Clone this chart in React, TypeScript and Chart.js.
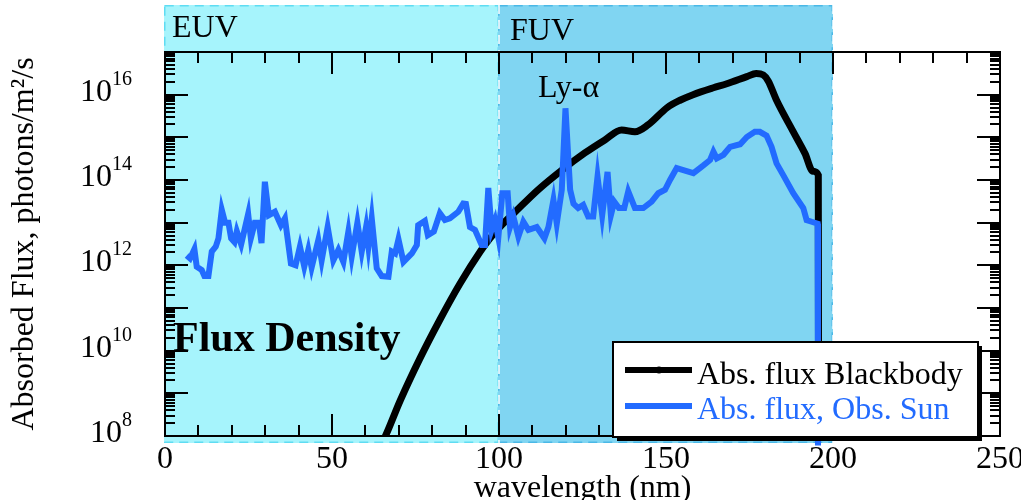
import React, { useEffect, useRef } from "react";
import { Chart, registerables } from "chart.js";

Chart.register(...registerables);

// ---------- data ----------
const seriesLabels = ["Abs. flux Blackbody", "Abs. flux, Obs. Sun"];

// Blackbody absorbed flux (wavelength nm, photons/m^2/s)
const bbWavelength = [
  63, 66, 70.4, 76.3, 82.3, 88.3, 94.3, 97.3, 100.8, 104.8, 111.7, 118.8, 125.7,
  131.7, 136.7, 140.7, 144.6, 150.4, 154.2, 158.1, 164.2, 168.2, 174.2, 177.0,
  179.1, 180.6, 183.1, 188.0, 191.6, 194.0, 195.6, 195.7,
];
const bbFlux = [
  3.5e7, 1.0e8, 6.7e8, 6.5e9, 5.3e10, 3.7e11, 2.05e12, 4.3e12, 8.8e12, 1.78e13,
  5.9e13, 1.7e14, 4.3e14, 8.7e14, 1.48e15, 1.35e15, 1.95e15, 5.0e15, 7.4e15,
  1.0e16, 1.45e16, 1.8e16, 2.65e16, 3.15e16, 2.9e16, 2.1e16, 7.4e15, 1.4e15,
  4.2e14, 1.6e14, 1.3e14, 1e6,
];

// Observed Sun absorbed flux
const sunWavelength = [
  6.5, 7.5, 8.8, 9.5, 11.0, 11.8, 13.0, 14.0, 15.2, 16.0, 17.0, 18.0, 19.0, 19.8,
  20.8, 21.5, 22.8, 24.9, 25.7, 26.9, 28.1, 28.9, 29.9, 31.1, 32.9, 34.7, 35.9,
  37.7, 39.1, 40.4, 41.7, 42.9, 43.9, 45.9, 46.9, 48.7, 50.4, 51.9, 53.4, 54.9,
  55.9, 57.6, 58.9, 60.2, 60.9, 61.9, 63.4, 64.9, 66.9, 67.9, 68.9, 69.9, 71.4,
  73.9, 75.4, 75.8, 77.8, 78.7, 80.5, 82.3, 83.8, 85.3, 87.8, 89.3, 90.1, 91.3,
  92.8, 94.8, 95.8, 96.8, 97.8, 98.8, 99.8, 101.0, 102.6, 103.3, 104.3, 105.8,
  107.3, 108.8, 111.3, 113.6, 114.8, 116.3, 117.3, 118.8, 119.9, 121.3, 122.3,
  123.7, 125.2, 126.7, 128.2, 129.5, 130.9, 132.5, 133.5, 134.5, 135.9, 137.5,
  138.7, 140.7, 143.2, 145.7, 147.7, 149.7, 151.2, 153.2, 155.2, 158.2, 161.2,
  163.2, 164.2, 165.2, 167.2, 169.2, 172.2, 174.2, 176.6, 178.1, 180.1, 181.6,
  183.1, 185.1, 188.1, 191.1, 192.1, 193.6, 195.4, 195.5,
];
const sunFlux = [
  1.7e12, 1.45e12, 2.4e12, 9.3e11, 7.8e11, 5.6e11, 5.6e11, 2.1e12, 2.75e12, 4.3e12,
  2.0e13, 1.0e13, 1.0e13, 4.3e12, 3.5e12, 6.3e12, 3.1e12, 1.6e13, 4.3e12, 1.0e13,
  1.0e13, 3.3e12, 9.1e13, 1.5e13, 1.8e13, 8.7e12, 1.26e13, 1.1e12, 1.0e12, 2.75e12,
  9.3e11, 2.3e12, 8.9e11, 3.9e12, 1.3e12, 7.9e12, 1.3e12, 2.3e12, 1.2e12, 6.2e12,
  1.6e12, 1.0e13, 2.1e12, 7.9e12, 2.75e12, 1.26e13, 8.5e11, 5.6e11, 5.4e11, 2.1e12,
  1.9e12, 4.1e12, 1.2e12, 1.9e12, 3.0e12, 8.7e12, 1.1e13, 5.1e12, 6.2e12, 1.66e13,
  1.15e13, 1.26e13, 1.8e13, 2.8e13, 2.75e13, 7.9e12, 6.8e12, 3.0e12, 3.0e12, 6.5e13,
  6.8e12, 1.15e13, 4.5e12, 4.9e13, 4.9e13, 7.9e12, 1.4e13, 4.7e12, 1.05e13, 6.8e12,
  7.9e12, 4.3e12, 7.9e12, 3.4e13, 9.5e12, 5.9e13, 4.8e15, 5.9e13, 2.8e13, 2.2e13,
  2.6e13, 1.4e13, 1.4e13, 1.2e14, 1.5e13, 1.55e14, 1.5e13, 3.1e13, 2.2e13, 2.2e13,
  5.4e13, 2.2e13, 2.2e13, 3.1e13, 4.9e13, 5.9e13, 1.0e14, 1.9e14, 1.7e14, 1.45e14,
  2.2e14, 2.95e14, 4.6e14, 3.2e14, 3.9e14, 6.0e14, 6.9e14, 1.02e15, 1.35e15, 1.35e15,
  1.1e15, 6.0e14, 2.45e14, 1.3e14, 4.9e13, 2.2e13, 1.15e13, 1.05e13, 9.5e12, 6e7,
];

const xMin = 0;
const xMax = 250;
const xLabelStep = 50;
const xMinorStep = 10;
const yMinExp = 8;
const yMaxExp = 17;
const yTickExponents = [8, 10, 12, 14, 16];

const bandNames = ["EUV", "FUV"];
const bandStarts = [0, 100];
const bandEnds = [100, 200];

const xTitle = "wavelength (nm)";
const yTitle = "Absorbed Flux, photons/m\u00B2/s";
const lyAlphaLabel = "Ly-\u03B1";
const panelLabel = "Flux Density";

// ---------- styles ----------
const SERIF = "'Liberation Serif', 'Times New Roman', 'DejaVu Serif', serif";
const BLUE = "#226bff";
const BAND_FILLS = ["#a6f4fc", "#80d5f2"];
const BAND_EDGES = ["#5fdcf2", "#4ab8e6"];

const decorPlugin = {
  id: "decor",
  beforeDraw(chart: any) {
    const { ctx, scales } = chart;
    const x = scales.x;
    ctx.save();
    const bTop = 5;
    const bBottom = 443;
    for (let i = 0; i < bandNames.length; i++) {
      const x0 = x.getPixelForValue(bandStarts[i]) - 1;
      const x1 = x.getPixelForValue(bandEnds[i]);
      ctx.fillStyle = BAND_FILLS[i];
      ctx.fillRect(x0, bTop, x1 - x0, bBottom - bTop);
      ctx.setLineDash([9, 6]);
      ctx.lineWidth = 1.5;
      ctx.strokeStyle = BAND_EDGES[i];
      ctx.strokeRect(x0 + 0.75, bTop + 0.75, x1 - x0 - 1.5, bBottom - bTop - 1.5);
    }
    ctx.strokeStyle = "#ffffff";
    ctx.lineWidth = 1.5;
    ctx.setLineDash([9, 6]);
    ctx.beginPath();
    for (const b of [bandEnds[0], bandEnds[1]]) {
      const px = x.getPixelForValue(b);
      ctx.moveTo(px, bTop);
      ctx.lineTo(px, bBottom);
    }
    ctx.stroke();
    ctx.setLineDash([]);
    ctx.fillStyle = "#000";
    ctx.font = `32px ${SERIF}`;
    ctx.textAlign = "left";
    ctx.textBaseline = "alphabetic";
    ctx.fillText(bandNames[0], x.getPixelForValue(bandStarts[0]) + 7, 37);
    ctx.fillText(bandNames[1], x.getPixelForValue(bandStarts[1]) + 11, 40);
    ctx.restore();
  },
  afterDatasetsDraw(chart: any) {
    const { ctx, chartArea, scales } = chart;
    const { left, right, top, bottom } = chartArea;
    const x = scales.x;
    const y = scales.y;
    ctx.save();
    ctx.strokeStyle = "#000";
    ctx.lineWidth = 2;
    ctx.beginPath();
    for (let v = xMin; v <= xMax; v += xMinorStep) {
      const px = Math.round(x.getPixelForValue(v));
      const len = v % xLabelStep === 0 ? 22 : 11;
      ctx.moveTo(px, bottom);
      ctx.lineTo(px, bottom - len);
      ctx.moveTo(px, top);
      ctx.lineTo(px, top + len);
    }
    for (let e = yMinExp; e < yMaxExp; e++) {
      for (let m = 1; m <= 9; m++) {
        const py = Math.round(y.getPixelForValue(m * Math.pow(10, e)));
        const len = m === 1 ? 23 : 10;
        ctx.moveTo(left, py);
        ctx.lineTo(left + len, py);
        ctx.moveTo(right, py);
        ctx.lineTo(right - len, py);
      }
    }
    ctx.stroke();
    ctx.strokeRect(left, top, right - left, bottom - top);

    ctx.fillStyle = "#000";
    ctx.textBaseline = "alphabetic";
    const labelRight = left - 33;
    for (const e of yTickExponents) {
      const py = y.getPixelForValue(Math.pow(10, e));
      ctx.font = `20px ${SERIF}`;
      const es = String(e);
      const ew = ctx.measureText(es).width;
      ctx.textAlign = "left";
      ctx.fillText(es, labelRight - ew, py - 10);
      ctx.font = `32px ${SERIF}`;
      ctx.textAlign = "right";
      ctx.fillText("10", labelRight - ew, py + 6);
    }
    ctx.restore();
  },
  afterDraw(chart: any) {
    const { ctx } = chart;
    ctx.save();
    ctx.fillStyle = "#000";
    ctx.textAlign = "left";
    ctx.textBaseline = "alphabetic";
    ctx.font = `32px ${SERIF}`;
    ctx.fillText(lyAlphaLabel, 538, 97);
    ctx.font = `bold 42px ${SERIF}`;
    ctx.fillText(panelLabel, 173, 351);

    const lx = 613;
    const ly = 342;
    const lw = 365;
    const lh = 95;
    ctx.fillStyle = "#000";
    ctx.fillRect(lx + 4, ly + 4, lw, lh);
    ctx.fillStyle = "#fff";
    ctx.fillRect(lx, ly, lw, lh);
    ctx.strokeStyle = "#000";
    ctx.lineWidth = 2;
    ctx.strokeRect(lx, ly, lw, lh);
    chart.data.datasets.forEach((ds: any, i: number) => {
      const sy = ly + 28 + i * 36;
      ctx.strokeStyle = ds.borderColor;
      ctx.lineWidth = 6;
      ctx.beginPath();
      ctx.moveTo(lx + 12, sy);
      ctx.lineTo(lx + 79, sy);
      ctx.stroke();
      if (i === 0) {
        ctx.fillStyle = ds.borderColor;
        ctx.beginPath();
        ctx.arc(lx + 46, sy, 3.5, 0, Math.PI * 2);
        ctx.fill();
      }
      ctx.fillStyle = ds.borderColor;
      ctx.font = `32px ${SERIF}`;
      ctx.fillText(ds.label, lx + 84, ly + 41.5 + i * 35.5);
    });
    ctx.restore();
  },
};

export default function App() {
  const ref = useRef<HTMLCanvasElement>(null);
  useEffect(() => {
    if (!ref.current) return;
    const chart = new Chart(ref.current, {
      type: "line",
      data: {
        datasets: [
          {
            label: seriesLabels[0],
            data: bbWavelength.map((w, i) => ({ x: w, y: bbFlux[i] })),
            borderColor: "#000000",
            backgroundColor: "#000000",
            borderWidth: 7,
            pointRadius: 0,
            cubicInterpolationMode: "monotone",
            order: 2,
          },
          {
            label: seriesLabels[1],
            data: sunWavelength.map((w, i) => ({ x: w, y: sunFlux[i] })),
            borderColor: BLUE,
            backgroundColor: BLUE,
            borderWidth: 6,
            pointRadius: 0,
            tension: 0,
            order: 1,
            clip: { left: 0, top: 0, right: 0, bottom: 12 } as any,
          },
        ],
      },
      options: {
        animation: false,
        responsive: false,
        devicePixelRatio: 1,
        layout: { padding: { left: 0, right: 21, top: 52, bottom: 0 } },
        plugins: {
          legend: { display: false },
          tooltip: { enabled: false },
        },
        scales: {
          x: {
            type: "linear",
            min: xMin,
            max: xMax,
            ticks: {
              stepSize: xLabelStep,
              color: "#000",
              font: { family: SERIF, size: 32 },
              padding: 4,
              maxRotation: 0,
              autoSkip: false,
            },
            grid: { display: false, drawTicks: false },
            border: { display: false },
            title: {
              display: true,
              text: xTitle,
              color: "#000",
              font: { family: SERIF, size: 32, lineHeight: 0.74 },
              padding: 0,
            },
            afterFit(s: any) {
              s.height = 64;
              s.paddingLeft = 0;
              s.paddingRight = 0;
            },
          },
          y: {
            type: "logarithmic",
            min: Math.pow(10, yMinExp),
            max: Math.pow(10, yMaxExp),
            ticks: { display: false },
            grid: { display: false, drawTicks: false },
            border: { display: false },
            title: {
              display: true,
              text: yTitle,
              color: "#000",
              font: { family: SERIF, size: 32 },
              padding: { top: 5, bottom: 0 },
            },
            afterFit(s: any) {
              s.width = 165;
              s.paddingTop = 0;
              s.paddingBottom = 0;
            },
          },
        },
      },
      plugins: [decorPlugin],
    });
    return () => chart.destroy();
  }, []);
  return (
    <div
      style={{
        position: "absolute",
        left: 0,
        top: 0,
        width: 1021,
        height: 500,
        background: "#fff",
      }}
    >
      <canvas
        ref={ref}
        width={1021}
        height={500}
        style={{ display: "block", width: 1021, height: 500 }}
      />
    </div>
  );
}
